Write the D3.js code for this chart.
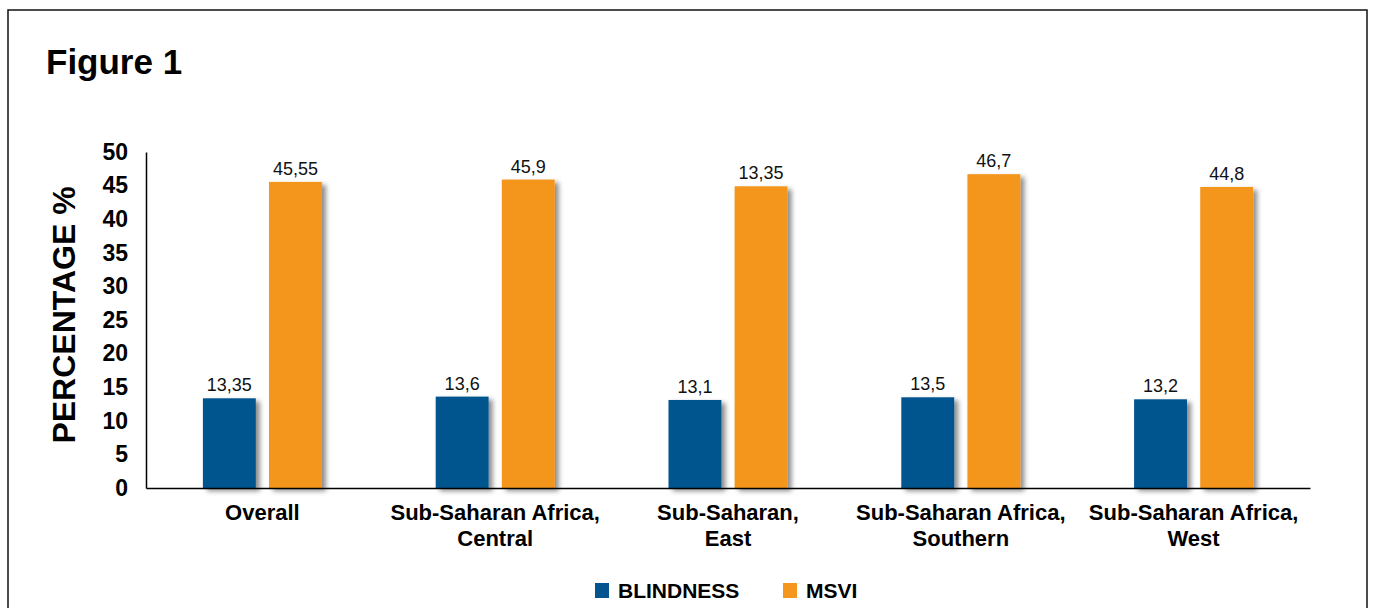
<!DOCTYPE html>
<html>
<head>
<meta charset="utf-8">
<script src="https://cdn.jsdelivr.net/npm/d3@7"></script>
<style>
  body { margin: 0; background: #fff; }
  svg { display: block; font-family: "Liberation Sans", Arial, sans-serif; }
</style>
</head>
<body>
<svg id="chart"></svg>
<script>
// data
const categories = ["Overall", "Sub-Saharan Africa, Central", "Sub-Saharan, East", "Sub-Saharan Africa, Southern", "Sub-Saharan Africa, West"];
const categoryLines = [["Overall"], ["Sub-Saharan Africa,", "Central"], ["Sub-Saharan,", "East"], ["Sub-Saharan Africa,", "Southern"], ["Sub-Saharan Africa,", "West"]];
const seriesNames = ["BLINDNESS", "MSVI"];
const blindness = [13.35, 13.6, 13.1, 13.5, 13.2];
const msvi = [45.55, 45.9, 44.9, 46.7, 44.8];
// printed labels (as they appear in the figure)
const blindnessLabels = ["13,35", "13,6", "13,1", "13,5", "13,2"];
const msviLabels = ["45,55", "45,9", "13,35", "46,7", "44,8"];
const yTicks = [0, 5, 10, 15, 20, 25, 30, 35, 40, 45, 50];
const colors = {"BLINDNESS": "#03548f", "MSVI": "#f5961f"};

const W = 1375, H = 608;
const svg = d3.select("#chart").attr("width", W).attr("height", H);

// drop shadow for the bars
const defs = svg.append("defs");
defs.append("filter").attr("id", "shadow")
    .attr("x", "-20%").attr("y", "-10%").attr("width", "150%").attr("height", "130%")
  .append("feDropShadow")
    .attr("dx", 4).attr("dy", 3).attr("stdDeviation", 2.5)
    .attr("flood-color", "#000").attr("flood-opacity", 0.45);

// frame
svg.append("rect")
    .attr("x", 8).attr("y", 10).attr("width", 1359).attr("height", 640)
    .attr("fill", "none").attr("stroke", "#111").attr("stroke-width", 1.5);

svg.append("text")
    .attr("x", 46).attr("y", 74)
    .attr("font-size", 35).attr("font-weight", "bold").attr("fill", "#000")
    .text("Figure 1");

const plotLeft = 146, plotRight = 1310, plotTop = 152, plotBottom = 488;

const x0 = d3.scaleBand().domain(categories).range([plotLeft, plotRight]).padding(0);
const x1 = d3.scaleBand().domain(seriesNames).range([-59.5, 59.5]).paddingInner(0.2);
const y = d3.scaleLinear().domain([0, 50]).range([plotBottom, plotTop]);

const rows = categories.map((c, i) => ({
  cat: c,
  vals: [
    {key: "BLINDNESS", value: blindness[i], label: blindnessLabels[i]},
    {key: "MSVI", value: msvi[i], label: msviLabels[i]}
  ]
}));

// bars
const groups = svg.append("g").selectAll("g")
  .data(rows)
  .join("g")
    .attr("transform", d => "translate(" + (x0(d.cat) + x0.bandwidth() / 2) + ",0)");

groups.selectAll("rect")
  .data(d => d.vals)
  .join("rect")
    .attr("x", d => x1(d.key))
    .attr("y", d => y(d.value))
    .attr("width", x1.bandwidth())
    .attr("height", d => y(0) - y(d.value))
    .attr("fill", d => colors[d.key])
    .attr("filter", "url(#shadow)");

groups.selectAll("text.val")
  .data(d => d.vals)
  .join("text")
    .attr("class", "val")
    .attr("x", d => x1(d.key) + x1.bandwidth() / 2)
    .attr("y", d => y(d.value) - 7)
    .attr("text-anchor", "middle")
    .attr("font-size", 18).attr("fill", "#111")
    .text(d => d.label);

// y axis
const yAxis = svg.append("g")
    .attr("transform", "translate(" + plotLeft + ",0)")
    .call(d3.axisLeft(y).tickValues(yTicks).tickSize(0).tickPadding(18));
yAxis.select(".domain").attr("stroke", "#000").attr("stroke-width", 1.5);
yAxis.selectAll("text")
    .attr("font-family", "Liberation Sans, Arial, sans-serif")
    .attr("font-size", 23).attr("font-weight", "bold").attr("fill", "#000");

// x axis line
const xAxis = svg.append("g")
    .attr("transform", "translate(0," + plotBottom + ")")
    .call(d3.axisBottom(x0).tickSize(0).tickFormat(""));
xAxis.select(".domain").attr("stroke", "#000").attr("stroke-width", 1.5);

// category labels, two lines
const catText = svg.append("g").selectAll("text")
  .data(categories)
  .join("text")
    .attr("x", d => x0(d) + x0.bandwidth() / 2)
    .attr("y", 520)
    .attr("text-anchor", "middle")
    .attr("font-size", 22).attr("font-weight", "bold").attr("fill", "#000");
catText.selectAll("tspan")
  .data((d, i) => categoryLines[i])
  .join("tspan")
    .attr("x", function() { return this.parentNode.getAttribute("x"); })
    .attr("dy", (d, i) => i === 0 ? 0 : 26)
    .text(d => d);

// y label
svg.append("text")
    .attr("transform", "translate(75,315) rotate(-90)")
    .attr("text-anchor", "middle")
    .attr("font-size", 32).attr("font-weight", "bold").attr("fill", "#000")
    .text("PERCENTAGE %");

// legend
const legendX = [595, 783];
const legend = svg.append("g").selectAll("g")
  .data(seriesNames)
  .join("g")
    .attr("transform", (d, i) => "translate(" + legendX[i] + ",583)");
legend.append("rect")
    .attr("width", 14).attr("height", 15)
    .attr("fill", d => colors[d]);
legend.append("text")
    .attr("x", 23).attr("y", 15)
    .attr("font-size", 21).attr("font-weight", "bold").attr("fill", "#000")
    .text(d => d);
</script>
</body>
</html>
